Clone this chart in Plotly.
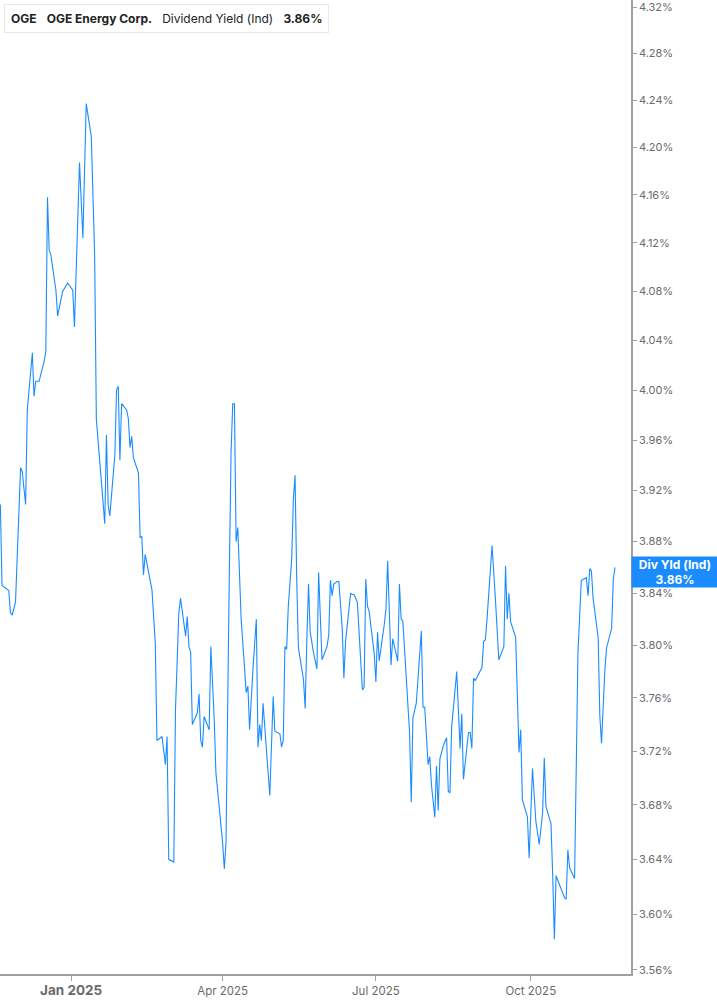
import plotly.graph_objects as go
import math

# ---- data ----
dates = [
    "2024-11-20", "2024-11-21", "2024-11-25", "2024-11-26", "2024-11-27", "2024-11-29",
    "2024-12-02", "2024-12-03", "2024-12-05", "2024-12-06", "2024-12-09", "2024-12-10",
    "2024-12-11", "2024-12-13", "2024-12-16", "2024-12-17", "2024-12-18", "2024-12-19",
    "2024-12-20", "2024-12-23", "2024-12-24", "2024-12-27", "2024-12-30", "2025-01-02",
    "2025-01-03", "2025-01-06", "2025-01-08", "2025-01-10", "2025-01-13", "2025-01-15",
    "2025-01-16", "2025-01-21", "2025-01-22", "2025-01-23", "2025-01-24", "2025-01-27",
    "2025-01-28", "2025-01-29", "2025-01-30", "2025-01-31", "2025-02-03", "2025-02-04",
    "2025-02-05", "2025-02-06", "2025-02-07", "2025-02-10", "2025-02-11", "2025-02-12",
    "2025-02-13", "2025-02-14", "2025-02-18", "2025-02-20", "2025-02-21", "2025-02-24",
    "2025-02-26", "2025-02-27", "2025-02-28", "2025-03-03", "2025-03-04", "2025-03-06",
    "2025-03-07", "2025-03-10", "2025-03-11", "2025-03-12", "2025-03-13", "2025-03-14",
    "2025-03-17", "2025-03-18", "2025-03-19", "2025-03-20", "2025-03-21", "2025-03-24",
    "2025-03-25", "2025-03-27", "2025-03-28", "2025-04-01", "2025-04-02", "2025-04-03",
    "2025-04-05", "2025-04-06", "2025-04-07", "2025-04-08", "2025-04-09", "2025-04-10",
    "2025-04-12", "2025-04-15", "2025-04-16", "2025-04-17", "2025-04-19", "2025-04-21",
    "2025-04-22", "2025-04-23", "2025-04-24", "2025-04-25", "2025-04-29", "2025-05-01",
    "2025-05-02", "2025-05-05", "2025-05-06", "2025-05-07", "2025-05-08", "2025-05-09",
    "2025-05-10", "2025-05-12", "2025-05-13", "2025-05-14", "2025-05-15", "2025-05-16",
    "2025-05-19", "2025-05-20", "2025-05-21", "2025-05-22", "2025-05-23", "2025-05-25",
    "2025-05-27", "2025-05-28", "2025-05-30", "2025-06-02", "2025-06-03", "2025-06-04",
    "2025-06-05", "2025-06-06", "2025-06-08", "2025-06-09", "2025-06-11", "2025-06-12",
    "2025-06-13", "2025-06-15", "2025-06-16", "2025-06-17", "2025-06-18", "2025-06-20",
    "2025-06-22", "2025-06-23", "2025-06-24", "2025-06-25", "2025-06-26", "2025-06-27",
    "2025-06-30", "2025-07-01", "2025-07-02", "2025-07-03", "2025-07-06", "2025-07-07",
    "2025-07-08", "2025-07-10", "2025-07-11", "2025-07-14", "2025-07-15", "2025-07-16",
    "2025-07-17", "2025-07-19", "2025-07-20", "2025-07-21", "2025-07-22", "2025-07-23",
    "2025-07-25", "2025-07-28", "2025-07-29", "2025-07-30", "2025-08-01", "2025-08-02",
    "2025-08-03", "2025-08-05", "2025-08-06", "2025-08-07", "2025-08-08", "2025-08-10",
    "2025-08-12", "2025-08-13", "2025-08-14", "2025-08-15", "2025-08-18", "2025-08-20",
    "2025-08-21", "2025-08-22", "2025-08-25", "2025-08-26", "2025-08-27", "2025-08-28",
    "2025-08-29", "2025-09-02", "2025-09-03", "2025-09-04", "2025-09-05", "2025-09-08",
    "2025-09-10", "2025-09-12", "2025-09-15", "2025-09-16", "2025-09-17", "2025-09-18",
    "2025-09-19", "2025-09-22", "2025-09-24", "2025-09-25", "2025-09-26", "2025-09-29",
    "2025-09-30", "2025-10-02", "2025-10-04", "2025-10-06", "2025-10-08", "2025-10-09",
    "2025-10-10", "2025-10-13", "2025-10-14", "2025-10-15", "2025-10-16", "2025-10-21",
    "2025-10-22", "2025-10-23", "2025-10-24", "2025-10-27", "2025-10-29", "2025-10-31",
    "2025-11-03", "2025-11-04", "2025-11-05", "2025-11-06", "2025-11-07", "2025-11-10",
    "2025-11-11", "2025-11-12", "2025-11-14", "2025-11-15", "2025-11-18", "2025-11-19",
    "2025-11-20",
]

yield_pct = [
    3.909, 3.846, 3.842, 3.825, 3.823, 3.833,
    3.938, 3.935, 3.909, 3.984, 4.030, 3.995,
    4.007, 4.007, 4.023, 4.031, 4.158, 4.114,
    4.110, 4.081, 4.060, 4.080, 4.087, 4.081,
    4.051, 4.187, 4.124, 4.237, 4.209, 4.110,
    3.977, 3.894, 3.964, 3.909, 3.900, 3.948,
    4.000, 4.003, 3.944, 3.989, 3.984, 3.977,
    3.954, 3.963, 3.946, 3.934, 3.883, 3.884,
    3.854, 3.870, 3.843, 3.802, 3.728, 3.731,
    3.710, 3.731, 3.640, 3.638, 3.751, 3.825,
    3.836, 3.807, 3.822, 3.799, 3.795, 3.740,
    3.749, 3.763, 3.728, 3.723, 3.746, 3.736,
    3.799, 3.744, 3.704, 3.652, 3.633, 3.652,
    3.858, 3.950, 3.989, 3.989, 3.880, 3.891,
    3.820, 3.764, 3.769, 3.736, 3.782, 3.820,
    3.723, 3.740, 3.728, 3.756, 3.687, 3.761,
    3.735, 3.733, 3.723, 3.728, 3.799, 3.797,
    3.830, 3.866, 3.913, 3.932, 3.850, 3.798,
    3.774, 3.752, 3.804, 3.847, 3.810, 3.794,
    3.782, 3.856, 3.789, 3.799, 3.808, 3.850,
    3.838, 3.847, 3.849, 3.849, 3.813, 3.775,
    3.803, 3.829, 3.840, 3.839, 3.839, 3.833,
    3.792, 3.766, 3.768, 3.851, 3.830, 3.826,
    3.794, 3.772, 3.810, 3.788, 3.816, 3.828,
    3.865, 3.785, 3.805, 3.788, 3.847, 3.820,
    3.819, 3.779, 3.751, 3.734, 3.682, 3.745,
    3.756, 3.811, 3.753, 3.753, 3.710, 3.716,
    3.695, 3.671, 3.709, 3.676, 3.714, 3.724,
    3.730, 3.690, 3.689, 3.738, 3.780, 3.722,
    3.748, 3.699, 3.734, 3.734, 3.722, 3.775,
    3.773, 3.783, 3.803, 3.804, 3.820, 3.877,
    3.835, 3.789, 3.799, 3.861, 3.820, 3.840,
    3.818, 3.806, 3.719, 3.736, 3.684, 3.671,
    3.641, 3.707, 3.668, 3.651, 3.674, 3.715,
    3.679, 3.666, 3.628, 3.582, 3.628, 3.612,
    3.611, 3.647, 3.634, 3.626, 3.794, 3.850,
    3.852, 3.838, 3.859, 3.857, 3.836, 3.806,
    3.746, 3.726, 3.782, 3.798, 3.813, 3.851,
    3.860,
]

y_ticks = [3.56, 3.60, 3.64, 3.68, 3.72, 3.76, 3.80, 3.84, 3.88, 3.92,
           3.96, 4.00, 4.04, 4.08, 4.12, 4.16, 4.20, 4.24, 4.28, 4.32]
y_tick_labels = ["%.2f%%" % v for v in y_ticks]

x_tick_dates = ["2025-01-01", "2025-04-01", "2025-07-01", "2025-10-01"]
x_tick_labels = ["<span style='font-size:13.5px'><b>Jan 2025</b></span>",
                 "Apr 2025", "Jul 2025", "Oct 2025"]

ticker = "OGE"
company = "OGE Energy Corp."
metric = "Dividend Yield (Ind)"
end_label = "Div Yld (Ind)"
last_value = yield_pct[-1]

LINE = "#1a8cff"
AXIS = "#a0a0a0"
TXT = "#6b6b6b"
FONT = "Inter, Roboto, sans-serif"

fig = go.Figure()
fig.add_trace(go.Scatter(
    x=dates, y=yield_pct, mode="lines",
    line=dict(color=LINE, width=1.1),
    hoverinfo="skip", showlegend=False,
))

fig.update_layout(
    width=717, height=1005,
    margin=dict(l=0, r=86, t=0, b=31),
    paper_bgcolor="white", plot_bgcolor="white",
    font=dict(family=FONT, size=11, color=TXT),
    showlegend=False,
    xaxis=dict(
        type="date",
        range=["2024-11-19 19:00", "2025-11-29 12:00"],
        tickmode="array", tickvals=x_tick_dates, ticktext=x_tick_labels,
        showgrid=False, zeroline=False,
        showline=True, linecolor=AXIS, linewidth=1.5,
        ticks="outside", ticklen=5, tickcolor=AXIS, tickwidth=1,
        tickfont=dict(family=FONT, size=11.5, color=TXT),
        fixedrange=True,
    ),
    yaxis=dict(
        type="log", side="right",
        range=[math.log10(3.5571), math.log10(4.3261)],
        tickmode="array", tickvals=y_ticks, ticktext=y_tick_labels,
        showgrid=False, zeroline=False,
        showline=True, linecolor=AXIS, linewidth=1.5,
        ticks="outside", ticklen=4, tickcolor=AXIS, tickwidth=1,
        tickfont=dict(family=FONT, size=11, color=TXT),
        ticklabeloverflow="allow",
        fixedrange=True,
    ),
)

# legend-style header box
sp = "\u00a0" * 3
fig.add_annotation(
    xref="paper", yref="paper", x=4 / 631, y=1 - 4 / 974,
    xanchor="left", yanchor="top", showarrow=False, align="left",
    text=("<b>%s</b>%s<b>%s</b>%s%s%s<b>%.2f%%</b>" %
          (ticker, sp, company, sp, metric, sp, last_value)),
    font=dict(family=FONT, size=12, color="#222222"),
    bgcolor="white", bordercolor="#e8e8e8", borderwidth=1, borderpad=6,
)
fig.add_shape(
    type="rect", xref="paper", yref="paper",
    x0=4 / 631, x1=6.5 / 631, y0=1 - 30 / 974, y1=1 - 5 / 974,
    fillcolor=LINE, line=dict(width=0), layer="above",
)

# right-side end label
fig.add_annotation(
    xref="paper", yref="y", x=1, y=math.log10(last_value),
    xanchor="left", yanchor="middle", showarrow=False, yshift=-5,
    text="<b>%s</b><br><b>%.2f%%</b>" % (end_label, last_value),
    font=dict(family=FONT, size=12, color="white"),
    bgcolor=LINE, borderpad=2, width=82, height=26, align="center",
)

fig.write_html("out.html", config={"displayModeBar": False},
               post_script="document.body.style.margin='0';")
